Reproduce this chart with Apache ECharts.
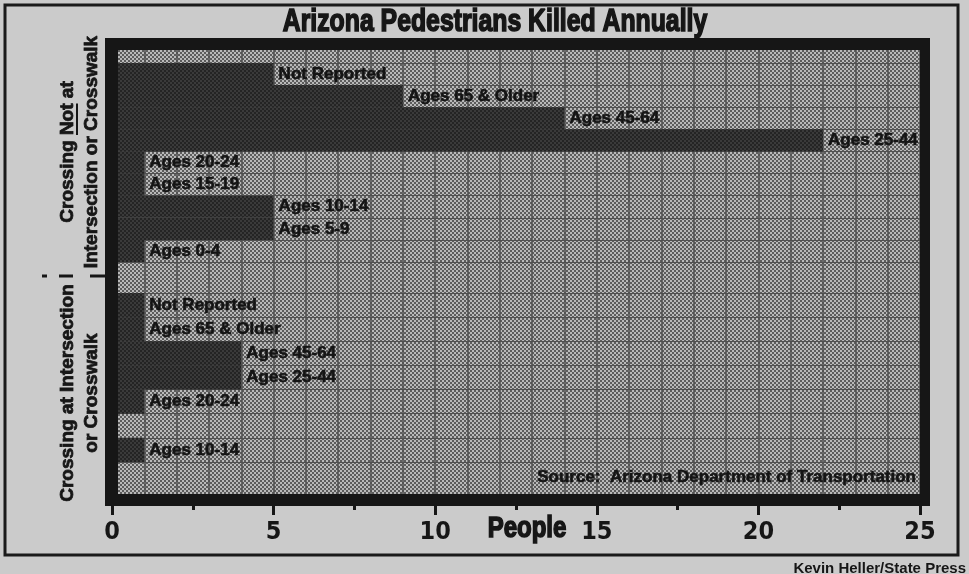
<!DOCTYPE html>
<html>
<head>
<meta charset="utf-8">
<script src="https://cdn.jsdelivr.net/npm/echarts@6/dist/echarts.min.js"></script>
<style>
html,body{margin:0;padding:0;background:#cbcbcb;}
#chart{width:969px;height:574px;}
</style>
</head>
<body>
<div id="chart"></div>
<script>
// ---- data ----
const categoriesNotAt = ['Not Reported','Ages 65 & Older','Ages 45-64','Ages 25-44','Ages 20-24','Ages 15-19','Ages 10-14','Ages 5-9','Ages 0-4'];
const valuesNotAt = [5, 9, 14, 22, 1, 1, 5, 5, 1];
const categoriesAt = ['Not Reported','Ages 65 & Older','Ages 45-64','Ages 25-44','Ages 20-24','Ages 15-19','Ages 10-14'];
const valuesAt = [1, 1, 4, 4, 1, 0, 1];
const xTickLabels = [0, 5, 10, 15, 20, 25];
const titleText = 'Arizona Pedestrians Killed Annually';
const groupLabelNotAt = ['Crossing ', 'Not', ' at', 'Intersection or Crosswalk'];
const groupLabelAt = ['Crossing at Intersection', 'or Crosswalk'];
const sourceText = 'Source:  Arizona Department of Transportation';
const creditText = 'Kevin Heller/State Press';
const axisName = 'People';

// ---- styles ----
const INK = '#161616';
const GRIDLINE = '#505050';
const NARROW = "'DejaVu Sans Condensed','Liberation Sans',sans-serif";
const SANS = "'Liberation Sans',Arial,sans-serif";

function makePattern(bg, fg, size, dot) {
  const c = document.createElement('canvas');
  c.width = size; c.height = size;
  const g = c.getContext('2d');
  g.fillStyle = bg; g.fillRect(0, 0, size, size);
  g.fillStyle = fg;
  g.fillRect(0, 0, dot, dot);
  g.fillRect(size / 2, size / 2, dot, dot);
  return {image: c, repeat: 'repeat'};
}
const PLOT = makePattern('#b9b9b9', '#5c5c5c', 4, 2);
const BAR = makePattern('#242424', '#3a3a3a', 4, 2);

const chart = echarts.init(document.getElementById('chart'), null, {renderer: 'canvas'});

const mctx = document.createElement('canvas').getContext('2d');
function tw(t, size, fam, weight) { mctx.font = (weight || 'bold') + ' ' + size + 'px ' + fam; return mctx.measureText(t).width; }

const GL = 19;
const wPart1 = tw(groupLabelNotAt[0], GL, SANS);
const wPart2 = tw(groupLabelNotAt[1], GL, SANS);
const wAll = tw(groupLabelNotAt[0] + groupLabelNotAt[1] + groupLabelNotAt[2], GL, SANS);

const tickSet = new Set(xTickLabels);
function labelFmt(p) { return p.value ? p.name : ''; }

const barLabel = {
  show: true, position: 'right', distance: 5,
  color: '#141414', fontFamily: SANS, fontWeight: 'bold', fontSize: 17,
  textBorderColor: '#141414', textBorderWidth: 0.6,
  formatter: labelFmt
};

const heavy = {stroke: INK, lineWidth: 0.8};

const option = {
  backgroundColor: '#cbcbcb',
  animation: false,
  grid: [
    {left: 112, right: 49, top: 50, bottom: 80},
    {left: 112, right: 49, top: 63, height: 199},
    {left: 112, right: 49, top: 293, height: 169}
  ],
  xAxis: [
    {gridIndex: 0, type: 'value', min: 0, max: 25, interval: 1, position: 'top',
      axisLine: {show: false}, axisTick: {show: false}, axisLabel: {show: false},
      splitLine: {show: true, lineStyle: {color: GRIDLINE, width: 1.5}}},
    {gridIndex: 0, type: 'value', min: 0, max: 25, interval: 5, position: 'bottom', offset: 12,
      axisLine: {show: false},
      axisTick: {show: true, length: 9, lineStyle: {color: INK, width: 3}},
      minorTick: {show: true, splitNumber: 2, length: 4, lineStyle: {color: INK, width: 3}},
      splitLine: {show: false},
      axisLabel: {show: true, margin: 26, verticalAlign: 'middle', color: INK,
        fontFamily: NARROW, fontWeight: 'bold', fontSize: 25,
        formatter: v => tickSet.has(v) ? String(v) : ''}},
    {gridIndex: 1, type: 'value', min: 0, max: 25, show: false},
    {gridIndex: 2, type: 'value', min: 0, max: 25, show: false}
  ],
  yAxis: [
    {gridIndex: 0, type: 'value', min: 0, max: 1, show: false},
    {gridIndex: 1, type: 'category', inverse: true, data: categoriesNotAt,
      axisLine: {show: false}, axisTick: {show: false}, axisLabel: {show: false},
      splitLine: {show: true, lineStyle: {color: GRIDLINE, width: 1.2}}},
    {gridIndex: 2, type: 'category', inverse: true, data: categoriesAt,
      axisLine: {show: false}, axisTick: {show: false}, axisLabel: {show: false},
      splitLine: {show: true, lineStyle: {color: GRIDLINE, width: 1.2}}}
  ],
  series: [
    {type: 'bar', xAxisIndex: 2, yAxisIndex: 1, data: valuesNotAt, barCategoryGap: '0%',
      itemStyle: {color: BAR}, label: barLabel, z: 3},
    {type: 'bar', xAxisIndex: 3, yAxisIndex: 2, data: valuesAt, barCategoryGap: '0%',
      itemStyle: {color: BAR}, label: barLabel, z: 3}
  ],
  graphic: [
    // plot background (halftone)
    {type: 'rect', z: -5, shape: {x: 112, y: 50, width: 808, height: 444}, style: {fill: PLOT}},
    // outer figure border
    {type: 'rect', z: 1, shape: {x: 5, y: 5, width: 953, height: 550},
      style: {fill: 'none', stroke: '#1a1a1a', lineWidth: 3}},
    // plot frame strips
    {type: 'rect', z: 60, shape: {x: 105, y: 38, width: 825, height: 12}, style: {fill: INK}},
    {type: 'rect', z: 60, shape: {x: 105, y: 494, width: 825, height: 12}, style: {fill: INK}},
    {type: 'rect', z: 60, shape: {x: 105, y: 38, width: 13, height: 468}, style: {fill: INK}},
    {type: 'rect', z: 60, shape: {x: 920, y: 38, width: 10, height: 468}, style: {fill: INK}},
    // title
    {type: 'text', z: 70, x: 495, y: 22, scaleX: 0.8, style: Object.assign({text: titleText, fill: INK,
      fontFamily: SANS, fontWeight: 'bold', fontSize: 31, align: 'center', verticalAlign: 'middle'}, {stroke: INK, lineWidth: 1.6})},
    // axis name
    {type: 'text', z: 70, x: 527, y: 529, scaleX: 0.8, style: Object.assign({text: axisName, fill: INK,
      fontFamily: SANS, fontWeight: 'bold', fontSize: 30, align: 'center', verticalAlign: 'middle'}, {stroke: INK, lineWidth: 1.6})},
    // source
    {type: 'text', z: 70, x: 916, y: 477, style: Object.assign({text: sourceText, fill: '#141414',
      fontFamily: SANS, fontWeight: 'bold', fontSize: 17, align: 'right', verticalAlign: 'middle'}, {stroke: '#141414', lineWidth: 0.6})},
    // credit
    {type: 'text', z: 70, x: 966, y: 569, style: {text: creditText, fill: INK,
      fontFamily: SANS, fontWeight: 'bold', fontSize: 15, align: 'right', verticalAlign: 'middle'}},
    // group label: not at intersection
    {type: 'group', x: 80, y: 152, rotation: Math.PI / 2, z: 70, children: [
      {type: 'text', x: 0, y: -12, z: 70, style: Object.assign({text: groupLabelNotAt[0] + groupLabelNotAt[1] + groupLabelNotAt[2], fill: INK,
        fontFamily: SANS, fontWeight: 'bold', fontSize: GL, align: 'center', verticalAlign: 'middle'}, heavy)},
      {type: 'text', x: 0, y: 12, z: 70, style: Object.assign({text: groupLabelNotAt[3], fill: INK,
        fontFamily: SANS, fontWeight: 'bold', fontSize: GL, align: 'center', verticalAlign: 'middle'}, heavy)},
      {type: 'line', z: 70, shape: {x1: -wAll / 2 + wPart1, y1: -3, x2: -wAll / 2 + wPart1 + wPart2, y2: -3},
        style: {stroke: INK, lineWidth: 2}}
    ]},
    // group label: at intersection
    {type: 'group', x: 80, y: 393, rotation: Math.PI / 2, z: 70, children: [
      {type: 'text', x: 0, y: -12, z: 70, style: Object.assign({text: groupLabelAt[0], fill: INK,
        fontFamily: SANS, fontWeight: 'bold', fontSize: GL, align: 'center', verticalAlign: 'middle'}, heavy)},
      {type: 'text', x: 0, y: 12, z: 70, style: Object.assign({text: groupLabelAt[1], fill: INK,
        fontFamily: SANS, fontWeight: 'bold', fontSize: GL, align: 'center', verticalAlign: 'middle'}, heavy)}
    ]},
    // separator dashes between the two groups
    {type: 'line', z: 70, shape: {x1: 42, y1: 276, x2: 47, y2: 276}, style: {stroke: INK, lineWidth: 3}},
    {type: 'line', z: 70, shape: {x1: 59, y1: 276, x2: 73, y2: 276}, style: {stroke: INK, lineWidth: 3}},
    {type: 'line', z: 70, shape: {x1: 90, y1: 276, x2: 105, y2: 276}, style: {stroke: INK, lineWidth: 3}}
  ]
};

chart.setOption(option);
</script>
</body>
</html>
